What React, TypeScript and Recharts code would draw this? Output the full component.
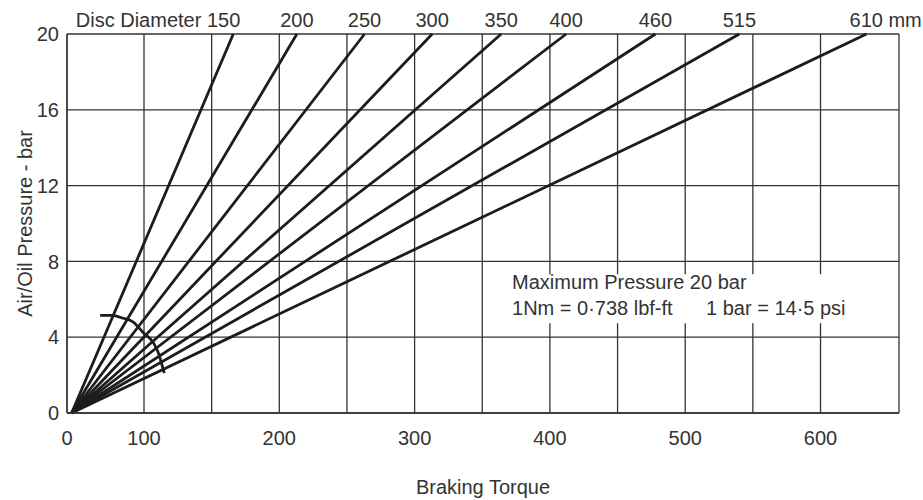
import { LineChart, Line, XAxis, YAxis, CartesianGrid, Label, ReferenceDot } from 'recharts';

// braking torque vs air/oil pressure, one line per disc diameter

// label at the top of each line and the torque where it reaches 20 bar
const topLabels = ['Disc Diameter 150', '200', '250', '300', '350', '400', '460', '515', '610 mm'];
const torqueAt20 = [166, 213, 263, 313, 364, 412, 478, 540, 634];
const startTorque = 6;
const maxPressure = 20;

// the arc drawn near the origin
const arcTorque = [43, 58, 73, 86, 100, 107, 111, 113, 115];
const arcPressure = [5.15, 5.15, 5.0, 4.8, 4.2, 3.7, 3.1, 2.6, 2.1];

const xTicks = [0, 100, 150, 200, 250, 300, 350, 400, 450, 500, 550, 600, 658];
const yTicks = [0, 4, 8, 12, 16, 20];

// note text and where it sits (torque, pressure of first baseline)
const noteLines = ['Maximum Pressure 20 bar', '1Nm = 0\u00b7738 lbf-ft', '1 bar = 14\u00b75 psi'];
const noteAt = { x: 372, y: 6.53 };

const INK = '#1c1c1c';
const TEXT = '#333';
const FONT = '"Liberation Sans", Arial, sans-serif';

// the original axis squeezes 0-100 into a short first cell, then runs linear
function brokenScale(breakAt: number, breakFrac: number): any {
  let dom = [0, 1];
  let rng = [0, 1];
  const scale: any = (v: number) => {
    const [d0, d1] = dom;
    const [r0, r1] = rng;
    const w = r1 - r0;
    if (v <= breakAt) return r0 + ((v - d0) / (breakAt - d0)) * breakFrac * w;
    return r0 + breakFrac * w + ((v - breakAt) / (d1 - breakAt)) * (1 - breakFrac) * w;
  };
  scale.domain = (d?: any[]) => {
    if (d === undefined) return dom.slice();
    dom = d.map(Number);
    return scale;
  };
  scale.range = (r?: any[]) => {
    if (r === undefined) return rng.slice();
    rng = r.map(Number);
    return scale;
  };
  scale.copy = () => brokenScale(breakAt, breakFrac).domain(dom).range(rng);
  scale.ticks = () => xTicks;
  return scale;
}

const xScale = brokenScale(100, 77 / 832);

const lines = torqueAt20.map((t) => [
  { x: startTorque, y: 0 },
  { x: t, y: maxPressure },
]);
const arcData = arcTorque.map((x, i) => ({ x, y: arcPressure[i] }));

const topLabel = (i: number) => (p: any) => {
  if (p.index !== 1) return null;
  const vb = p.viewBox || {};
  const x = p.x ?? vb.x;
  const y = p.y ?? vb.y;
  if (x == null || y == null) return null;
  const last = i === topLabels.length - 1;
  const anchor = i === 0 ? 'end' : last ? 'start' : 'middle';
  const dx = i === 0 ? 7 : last ? -17 : 0;
  return (
    <text x={x + dx} y={y - 7} textAnchor={anchor} fill={TEXT} fontSize={20} fontFamily={FONT}>
      {topLabels[i]}
    </text>
  );
};

// white box behind the note hides the grid, as in the original
const noteShape = (p: any) => (
  <g>
    <rect x={p.cx - 12} y={p.cy - 15} width={360} height={49} fill="#fff" />
    <text fill={TEXT} fontSize={20} fontFamily={FONT}>
      <tspan x={p.cx} y={p.cy}>{noteLines[0]}</tspan>
      <tspan x={p.cx} y={p.cy + 26}>{noteLines[1]}</tspan>
      <tspan x={p.cx + 194} y={p.cy + 26}>{noteLines[2]}</tspan>
    </text>
  </g>
);

export default function App() {
  return (
    <div style={{ position: 'absolute', left: 0, top: 0, fontFamily: FONT }}>
      <LineChart width={923} height={500} margin={{ top: 34, right: 24, bottom: 0, left: 22 }}>
        <CartesianGrid stroke="#333" strokeWidth={1.3} />
        <XAxis
          dataKey="x"
          type="number"
          scale={xScale}
          domain={[0, 658]}
          ticks={xTicks}
          interval={0}
          height={87}
          tickLine={false}
          tickMargin={12}
          axisLine={{ stroke: '#333', strokeWidth: 1.3 }}
          tick={{ fill: TEXT, fontSize: 20 }}
          tickFormatter={(v: number) => (v % 100 === 0 ? String(v) : '')}
        >
          <Label value="Braking Torque" position="insideBottom" offset={6} fill={TEXT} fontSize={20} />
        </XAxis>
        <YAxis
          type="number"
          domain={[0, 20]}
          ticks={yTicks}
          interval={0}
          width={45}
          tickLine={false}
          axisLine={{ stroke: '#333', strokeWidth: 1.3 }}
          tick={{ fill: TEXT, fontSize: 20 }}
        >
          <Label
            value="Air/Oil Pressure - bar"
            angle={-90}
            position="insideLeft"
            offset={2.5}
            textAnchor="middle"
            fill={TEXT}
            fontSize={20}
          />
        </YAxis>
        {lines.map((d, i) => (
          <Line
            key={topLabels[i]}
            data={d}
            dataKey="y"
            type="linear"
            stroke={INK}
            strokeWidth={2.8}
            dot={false}
            activeDot={false}
            isAnimationActive={false}
            label={topLabel(i)}
          />
        ))}
        <Line
          data={arcData}
          dataKey="y"
          type="monotone"
          stroke={INK}
          strokeWidth={2.8}
          dot={false}
          activeDot={false}
          isAnimationActive={false}
        />
        <ReferenceDot x={noteAt.x} y={noteAt.y} r={0} shape={noteShape} />
      </LineChart>
    </div>
  );
}
